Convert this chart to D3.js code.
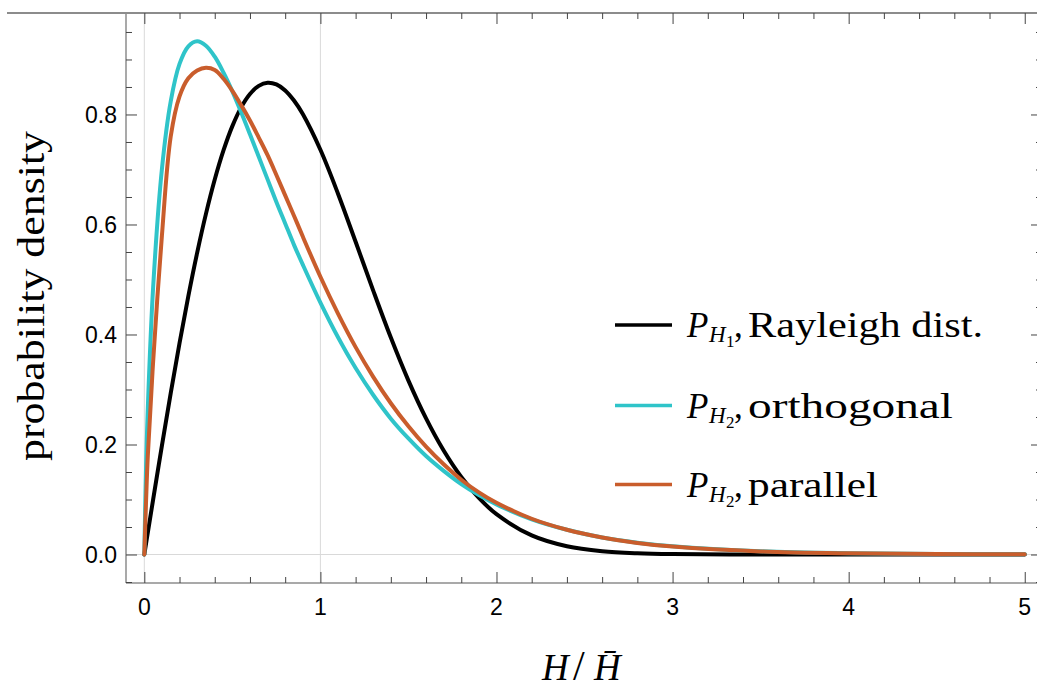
<!DOCTYPE html>
<html>
<head>
<meta charset="utf-8">
<script src="https://cdn.jsdelivr.net/npm/d3@7"></script>
<style>
  body { margin: 0; background: #fff; }
  svg { display: block; }
</style>
</head>
<body>
<svg id="chart" width="1037" height="689"></svg>
<script>
// ---- data ----
const xValues = [0,0.01,0.02,0.05,0.1,0.15,0.2,0.25,0.3,0.35,0.4,0.45,0.5,0.55,0.6,0.65,0.7,0.75,0.8,0.85,0.9,1.0,1.1,1.2,1.3,1.4,1.5,1.6,1.7,1.8,1.9,2.0,2.2,2.4,2.6,2.8,3.0,3.5,4.0,4.5,5.0];
const rayleigh = [0,0.02,0.04,0.0998,0.198,0.2933,0.3843,0.4697,0.5484,0.6193,0.6817,0.7350,0.7788,0.8129,0.8372,0.8520,0.8577,0.8547,0.8437,0.8253,0.8007,0.7358,0.6560,0.5686,0.4798,0.3944,0.3162,0.2474,0.1890,0.1410,0.1028,0.0733,0.0348,0.0151,0.0060,0.0022,0.0007,0.0000,0,0,0];
const orthogonal = [0,0.161,0.267,0.485,0.701,0.824,0.892,0.924,0.933,0.925,0.905,0.876,0.842,0.804,0.764,0.723,0.682,0.641,0.602,0.563,0.527,0.458,0.395,0.339,0.290,0.247,0.211,0.179,0.152,0.128,0.108,0.091,0.064,0.045,0.0309,0.0215,0.0149,0.0059,0.0023,0.0009,0.0004];
const parallel = [0,0.098,0.180,0.350,0.580,0.760,0.833,0.866,0.880,0.885,0.881,0.865,0.843,0.817,0.789,0.758,0.726,0.690,0.653,0.616,0.578,0.505,0.438,0.377,0.323,0.275,0.233,0.196,0.164,0.136,0.113,0.094,0.065,0.045,0.031,0.021,0.0145,0.0056,0.0021,0.0008,0.0003];
const xTicks = [0,1,2,3,4,5];
const yTicks = [0,0.2,0.4,0.6,0.8];
const seriesNames = ["Rayleigh dist.", "orthogonal", "parallel"];
const seriesSubs = ["1", "2", "2"];
const seriesColors = ["#000000", "#2fc4c9", "#c95d2c"];

// ---- layout ----
const svg = d3.select("#chart");
const frame = {left: 126, right: 1042, top: 13, bottom: 583};
const x = d3.scaleLinear().domain([-0.104, 5.098]).range([frame.left, frame.right]);
const y = d3.scaleLinear().domain([-0.0518, 0.9845]).range([frame.bottom, frame.top]);

svg.append("rect").attr("width", 1037).attr("height", 689).attr("fill", "#fff");

// grid lines
const grid = svg.append("g").attr("stroke", "#d9d9d9").attr("stroke-width", 1);
[0, 1].forEach(v => grid.append("line")
  .attr("x1", x(v)).attr("x2", x(v)).attr("y1", frame.top).attr("y2", frame.bottom));
grid.append("line").attr("x1", frame.left).attr("x2", frame.right)
  .attr("y1", y(0)).attr("y2", y(0));

// frame
const fr = svg.append("g").attr("stroke", "#8c8c8c").attr("fill", "none");
fr.append("line").attr("x1", 7).attr("x2", 1037).attr("y1", frame.top).attr("y2", frame.top).attr("stroke-width", 2);
fr.append("line").attr("x1", frame.left).attr("x2", frame.left).attr("y1", frame.top).attr("y2", frame.bottom).attr("stroke-width", 1.5);
fr.append("line").attr("x1", frame.left).attr("x2", frame.right).attr("y1", frame.bottom).attr("y2", frame.bottom).attr("stroke-width", 1.5);
fr.append("line").attr("x1", frame.right).attr("x2", frame.right).attr("y1", frame.top).attr("y2", frame.bottom).attr("stroke-width", 1.5);

// ticks via d3 axes
const xMinor = d3.range(0, 26).map(i => i * 0.2);
const yMinor = d3.range(-1, 20).map(i => i * 0.05);
const isMajorX = v => Math.abs(v - Math.round(v)) < 1e-6;
const isMajorY = v => Math.abs(v * 5 - Math.round(v * 5)) < 1e-6;

function tickAxis(axisFn, scale, vals, isMajor, transform) {
  const g = svg.append("g").attr("transform", transform)
    .call(axisFn(scale).tickValues(vals).tickFormat("").tickSizeOuter(0).tickSizeInner(6));
  g.select(".domain").remove();
  g.selectAll(".tick line").attr("stroke", "#444").attr("stroke-width", 1)
    .each(function(d) {
      const sel = d3.select(this);
      const len = isMajor(d) ? 11 : 6;
      if (sel.attr("y2") !== null && +sel.attr("y2") !== 0) sel.attr("y2", Math.sign(+sel.attr("y2")) * len);
      if (sel.attr("x2") !== null && +sel.attr("x2") !== 0) sel.attr("x2", Math.sign(+sel.attr("x2")) * len);
    });
  return g;
}
tickAxis(d3.axisTop, x, xMinor, isMajorX, `translate(0,${frame.bottom})`);
tickAxis(d3.axisBottom, x, xMinor, isMajorX, `translate(0,${frame.top})`);
tickAxis(d3.axisRight, y, yMinor, isMajorY, `translate(${frame.left},0)`);
tickAxis(d3.axisLeft, y, yMinor, isMajorY, `translate(${frame.right},0)`);

// tick labels
const labelFont = "'Liberation Sans', Arial, sans-serif";
svg.append("g").selectAll("text").data(xTicks).join("text")
  .attr("x", d => x(d)).attr("y", 615)
  .attr("text-anchor", "middle").attr("font-family", labelFont).attr("font-size", 23)
  .attr("fill", "#000").text(d => d3.format("d")(d));
svg.append("g").selectAll("text").data(yTicks).join("text")
  .attr("x", 117).attr("y", d => y(d)).attr("dy", "0.36em")
  .attr("text-anchor", "end").attr("font-family", labelFont).attr("font-size", 23)
  .attr("fill", "#000").text(d => d3.format(".1f")(d));

// axis titles
const serif = "'Liberation Serif', 'Times New Roman', serif";
svg.append("text")
  .attr("transform", "translate(44,296) rotate(-90)")
  .attr("text-anchor", "middle").attr("font-family", serif).attr("font-size", 38)
  .attr("textLength", 330).attr("lengthAdjust", "spacingAndGlyphs")
  .text("probability density");

const xt = svg.append("text").attr("font-family", serif).attr("font-size", 37).attr("fill", "#000");
xt.append("tspan").attr("x", 542).attr("y", 680).attr("font-style", "italic").text("H");
xt.append("tspan").attr("x", 573).attr("y", 680).attr("font-size", 42).text("/");
xt.append("tspan").attr("x", 594).attr("y", 680).attr("font-style", "italic").text("H\u0304");

// curves
const series = [rayleigh, orthogonal, parallel];
const line = d3.line().x(d => x(d[0])).y(d => y(d[1])).curve(d3.curveCatmullRom.alpha(0.5));
svg.append("g").selectAll("path").data(series).join("path")
  .attr("d", s => line(xValues.map((xv, i) => [xv, s[i]])))
  .attr("fill", "none")
  .attr("stroke", (s, i) => seriesColors[i])
  .attr("stroke-width", 4)
  .attr("stroke-linejoin", "round")
  .attr("stroke-linecap", "round");

// legend
const legendRowY = [325, 405.5, 484.5];
const wordWidths = [235, 205, 130];
const lg = svg.append("g");
seriesNames.forEach((name, i) => {
  const ly = legendRowY[i];
  lg.append("line").attr("x1", 615).attr("x2", 672).attr("y1", ly).attr("y2", ly)
    .attr("stroke", seriesColors[i]).attr("stroke-width", 3.5);
  const base = ly + 12;
  const t = lg.append("text").attr("font-family", serif).attr("fill", "#000");
  t.append("tspan").attr("x", 687).attr("y", base)
    .attr("font-style", "italic").attr("font-size", 35).text("P");
  t.append("tspan").attr("x", 709).attr("y", base + 5)
    .attr("font-style", "italic").attr("font-size", 23).text("H");
  t.append("tspan").attr("x", 726).attr("y", base + 10)
    .attr("font-size", 17).text(seriesSubs[i]);
  t.append("tspan").attr("x", 734).attr("y", base)
    .attr("font-size", 35).text(",");
  lg.append("text").attr("x", 748).attr("y", base)
    .attr("font-family", serif).attr("font-size", 35)
    .attr("textLength", wordWidths[i]).attr("lengthAdjust", "spacingAndGlyphs")
    .text(name);
});
</script>
</body>
</html>
